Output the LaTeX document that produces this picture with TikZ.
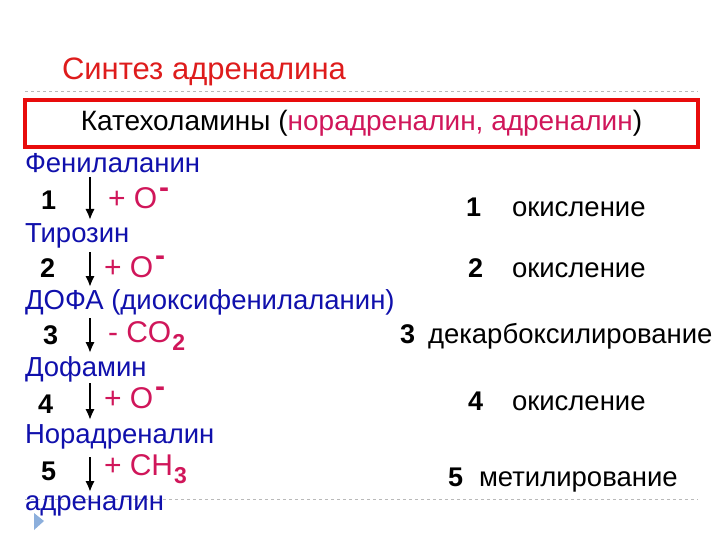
\documentclass[tikz,border=0pt]{standalone}
\usepackage{fontspec}
\setmainfont{Liberation Sans}
\usepackage{tikz}
\usetikzlibrary{arrows.meta,calc}
\definecolor{titlered}{RGB}{222,28,28}
\definecolor{boxred}{RGB}{232,12,12}
\definecolor{chemred}{RGB}{208,22,90}
\definecolor{compblue}{RGB}{16,16,172}
\definecolor{tricol}{RGB}{140,175,220}
\begin{document}
\begin{tikzpicture}[x=1pt,y=-1pt,
  every node/.style={inner sep=0pt, outer sep=0pt, anchor=base west},
  compound/.style={text=compblue, font=\fontsize{27.5}{30}\selectfont},
  stepnum/.style={font=\fontsize{27}{30}\selectfont\bfseries},
  reagent/.style={text=chemred, font=\fontsize{30}{32}\selectfont},
  charge/.style={text=chemred, font=\fontsize{30}{32}\selectfont\bfseries},
  index/.style={text=chemred, font=\fontsize{23}{25}\selectfont\bfseries},
  reaction/.style={font=\fontsize{27.5}{30}\selectfont},
  arr/.style={-{Latex[length=11pt,width=9.5pt]}, line width=2.7pt}]
\useasboundingbox (0,0) rectangle (720,540);
\draw[gray!55, dashed, line width=0.7pt] (25,91) -- (698,91);
\draw[gray!55, dashed, line width=0.7pt] (25,499) -- (698,499);
\node[text=titlered, font=\fontsize{31}{33}\selectfont] (title) at (62,80) {Синтез адреналина};
\node[draw=boxred, line width=4.5pt, anchor=center, minimum width=673pt, minimum height=47pt, font=\fontsize{28}{30}\selectfont] (catbox) at (361.5,123.5) {Катехоламины (\textcolor{chemred}{норадреналин, адреналин})};

\node[compound] (phe) at (25,173) {Фенилаланин};
\node[compound] (tyr) at (25,242) {Тирозин};
\node[compound] (dopa) at (25,309) {ДОФА (диоксифенилаланин)};
\node[compound] (dopam) at (25,376) {Дофамин};
\node[compound] (noradr) at (25,443) {Норадреналин};
\node[compound] (adr) at (25,510) {адреналин};

\coordinate (ax) at (90,0);
\draw[arr] ($(phe.base -| ax)+(0,4)$) -- ($(tyr.base -| ax)+(0,-22)$);
\draw[arr] ($(tyr.base -| ax)+(0,10)$) -- ($(dopa.base -| ax)+(0,-22)$);
\draw[arr] ($(dopa.base -| ax)+(0,9)$) -- ($(dopam.base -| ax)+(0,-23)$);
\draw[arr] ($(dopam.base -| ax)+(0,7)$) -- ($(noradr.base -| ax)+(0,-23)$);
\draw[arr] ($(noradr.base -| ax)+(0,14)$) -- ($(adr.base -| ax)+(0,-18)$);

\node[stepnum] (n1) at (41,210) {1};
\node[stepnum] (n2) at (40,277) {2};
\node[stepnum] (n3) at (43,344) {3};
\node[stepnum] (n4) at (38,413) {4};
\node[stepnum] (n5) at (41,480) {5};

\node[reagent] (r1) at (108,209) {+ O};
\node[charge] (r1m) at ($(r1.base east)+(2,-11)$) {-};
\node[reagent] (r2) at (104,277) {+ O};
\node[charge] (r2m) at ($(r2.base east)+(2,-12)$) {-};
\node[reagent] (r3) at (108,342) {- CO};
\node[index] (r3i) at ($(r3.base east)+(1,8)$) {2};
\node[reagent] (r4) at (104,408) {+ O};
\node[charge] (r4m) at ($(r4.base east)+(2,-12)$) {-};
\node[reagent] (r5) at (104,475) {+ CH};
\node[index] (r5i) at ($(r5.base east)+(1,8)$) {3};

\node[stepnum] (m1) at (466,216) {1};
\node[reaction] (ox1) at (512,216) {окисление};
\node[stepnum] (m2) at (468,277) {2};
\node[reaction] (ox2) at (512,277) {окисление};
\node[stepnum] (m3) at (400,343) {3};
\node[reaction] (dec) at (428,343) {декарбоксилирование};
\node[stepnum] (m4) at (468,410) {4};
\node[reaction] (ox4) at (512,410) {окисление};
\node[stepnum] (m5) at (448,486) {5};
\node[reaction] (meth) at (479,486) {метилирование};

\fill[tricol] (34,513) -- (44,521) -- (34,530) -- cycle;
\end{tikzpicture}
\end{document}
